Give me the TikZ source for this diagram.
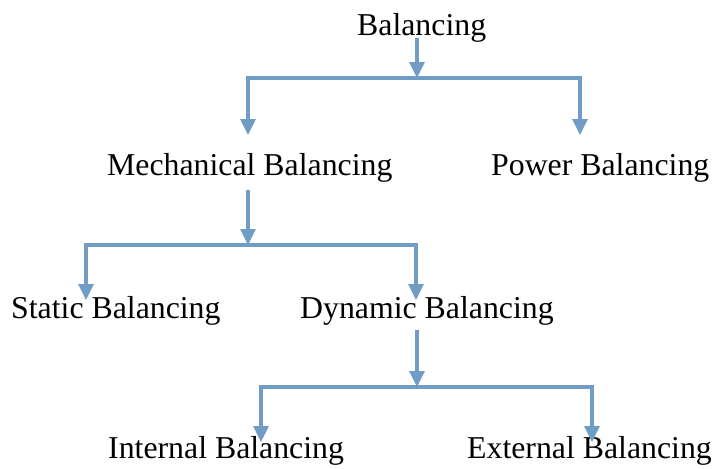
\documentclass[tikz,border=0pt]{standalone}
\usepackage{fontspec}
\setmainfont{Liberation Serif}
\usetikzlibrary{arrows.meta,calc}
\definecolor{linkblue}{RGB}{112,156,198}
\begin{document}
\begin{tikzpicture}[x=1pt,y=-1pt,
  lbl/.style={anchor=base west,inner sep=0pt,font=\fontsize{31.8}{36}\selectfont},
  conn/.style={draw=linkblue,line width=3.3pt,line join=miter},
  arr/.style={conn,-{Triangle[width=15pt,length=16pt]}}]
\useasboundingbox (0,0) rectangle (713,469);
% labels
\node[lbl] (bal)  at (357,35)  {Balancing};
\node[lbl] (mech) at (107,175) {Mechanical Balancing};
\node[lbl] (pow)  at (491,175) {Power Balancing};
\node[lbl] (stat) at (11,318)  {Static Balancing};
\node[lbl] (dyn)  at (300,318) {Dynamic Balancing};
\node[lbl] (int)  at (108,458) {Internal Balancing};
\node[lbl] (ext)  at (467,458) {External Balancing};
% junctions and arrow tips
\coordinate (j1) at (417,78);
\coordinate (t1a) at (248,135);
\coordinate (t1b) at (580,135);
\coordinate (j2) at (248,245);
\coordinate (t2a) at (86,300);
\coordinate (t2b) at (416,300);
\coordinate (j3) at (417,387);
\coordinate (t3a) at (261,442);
\coordinate (t3b) at (592,442);
% connectors
\draw[arr] ($(bal.south -| j1)+(0,-4)$) -- (j1);
\draw[arr] (j1) -| (t1a);
\draw[arr] (j1) -| (t1b);
\draw[arr] ($(mech.south -| j2)+(0,8)$) -- (j2);
\draw[arr] (j2) -| (t2a);
\draw[arr] (j2) -| (t2b);
\draw[arr] ($(dyn.south -| j3)+(0,5)$) -- (j3);
\draw[arr] (j3) -| (t3a);
\draw[arr] (j3) -| (t3b);
\end{tikzpicture}
\end{document}
